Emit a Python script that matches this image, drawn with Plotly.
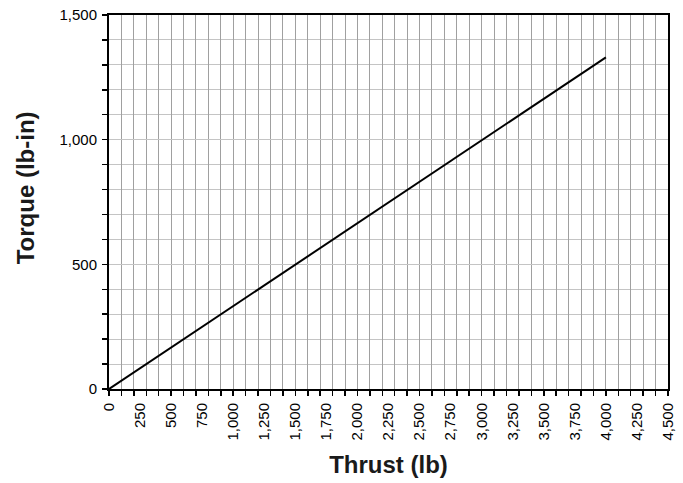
import plotly.graph_objects as go

# Data
thrust_lb = [0, 1000, 2000, 3000, 4000]
torque_lbin = [0, 332, 665, 997, 1330]

x_label_vals = list(range(0, 4501, 250))
y_label_vals = [0, 500, 1000, 1500]

fig = go.Figure()
fig.add_trace(go.Scatter(x=thrust_lb, y=torque_lbin, mode="lines",
                         line=dict(color="black", width=2),
                         showlegend=False, hoverinfo="skip"))
# invisible trace so the label axis is drawn
fig.add_trace(go.Scatter(x=thrust_lb, y=torque_lbin, mode="markers",
                         marker=dict(opacity=0), xaxis="x2",
                         showlegend=False, hoverinfo="skip"))

font_family = "Liberation Sans, Arial, sans-serif"

fig.update_layout(
    width=683, height=483,
    margin=dict(l=109, r=15, t=15, b=94),
    paper_bgcolor="white", plot_bgcolor="white",
    font=dict(family=font_family, size=15, color="black"),
    xaxis=dict(
        range=[0, 4500], dtick=100, tick0=0,
        showticklabels=False, automargin=False,
        ticks="outside", ticklen=5, tickwidth=1.5, tickcolor="black",
        showgrid=True, gridcolor="#a0a0a0", gridwidth=1,
        showline=True, linecolor="black", linewidth=2, mirror=True,
        zeroline=False,
    ),
    xaxis2=dict(
        overlaying="x", side="bottom", range=[0, 4500], automargin=False,
        tickmode="array", tickvals=x_label_vals,
        tickformat=",d", tickangle=-90,
        ticks="outside", ticklen=7, tickcolor="rgba(0,0,0,0)",
        showgrid=False, zeroline=False, showline=False,
        tickfont=dict(size=15, color="black"),
        title=dict(text="<b>Thrust (lb)</b>", font=dict(size=24, color="#1a1a1a"),
                   standoff=16),
    ),
    yaxis=dict(
        range=[0, 1500], automargin=False,
        tickmode="array", tickvals=y_label_vals, tickformat=",d",
        ticks="outside", ticklen=5, tickwidth=1.5, tickcolor="black",
        ticklabelstandoff=2,
        minor=dict(dtick=100, tick0=0, ticks="outside", ticklen=5,
                   tickwidth=1.5, tickcolor="black",
                   showgrid=True, gridcolor="#c4c4c4", gridwidth=1),
        showgrid=True, gridcolor="#c4c4c4", gridwidth=1,
        showline=True, linecolor="black", linewidth=2, mirror=True,
        zeroline=False,
        tickfont=dict(size=15, color="black"),
    ),
    annotations=[dict(
        text="<b>Torque (lb-in)</b>", textangle=-90,
        xref="paper", yref="paper", x=-0.15, y=0.537,
        xanchor="center", yanchor="middle", showarrow=False,
        font=dict(size=24, color="#1a1a1a"),
    )],
)

fig.write_html("out.html",
               config={"displayModeBar": False, "staticPlot": True},
               post_script="document.body.style.margin='0';document.body.style.overflow='hidden';")
